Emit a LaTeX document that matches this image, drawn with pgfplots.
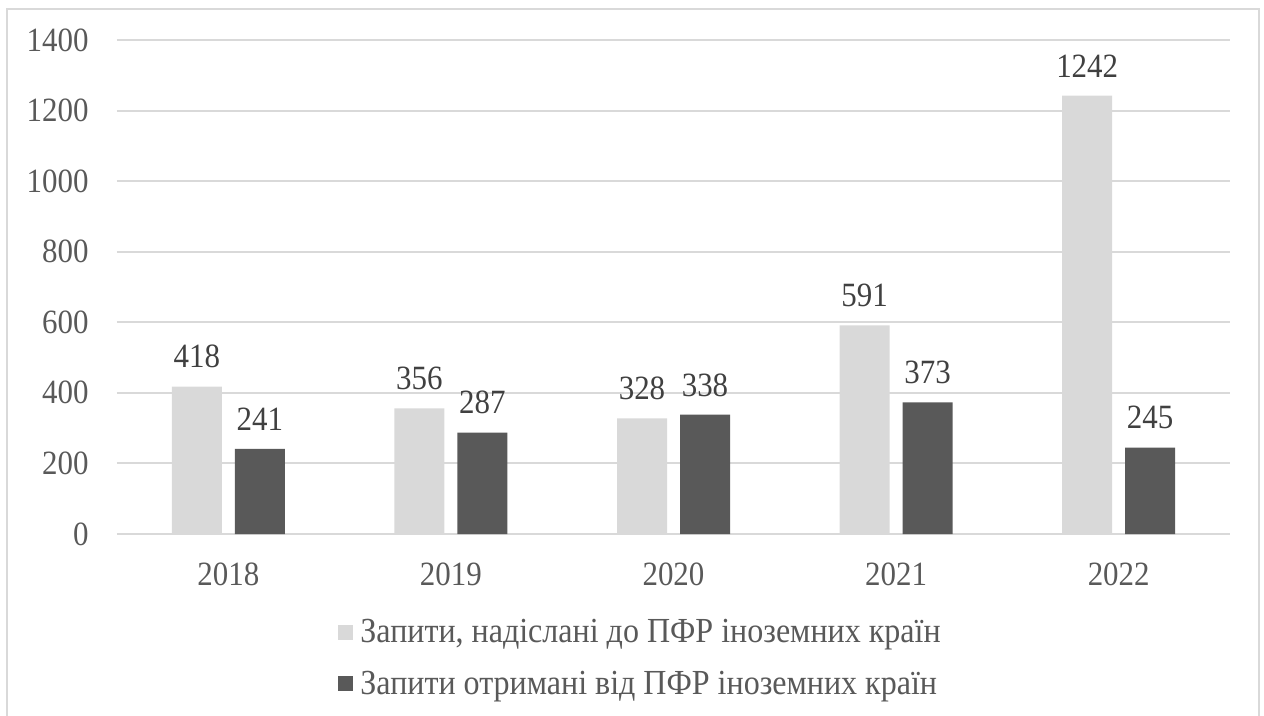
\documentclass[border=0pt]{standalone}
\usepackage{fontspec}
\setmainfont[FakeStretch=0.91]{Liberation Serif}
\usepackage{pgfplots}
\pgfplotsset{compat=1.18}
\definecolor{lightbar}{HTML}{D9D9D9}
\definecolor{darkbar}{HTML}{595959}
\definecolor{gridc}{HTML}{D9D9D9}
\definecolor{tickc}{HTML}{595959}
\definecolor{labc}{HTML}{404040}
\newcommand{\cfont}{\fontsize{17}{20}\selectfont}
\begin{document}
\begin{tikzpicture}
\useasboundingbox (0,0) rectangle (632pt,-358pt);
\draw[gridc, line width=1pt] (3.65pt,-4.5pt) rectangle (629.5pt,-380pt);
\begin{axis}[
  at={(58.5pt,-267pt)}, anchor=south west,
  scale only axis, width=556.5pt, height=247pt,
  ybar=6.5pt, bar width=25pt,
  xmin=-0.5, xmax=4.5, ymin=0, ymax=1400,
  xtick={0,1,2,3,4}, xticklabels={2018,2019,2020,2021,2022},
  ytick={0,200,400,600,800,1000,1200,1400},
  ymajorgrids, grid style={gridc, line width=1pt},
  axis line style={draw=none},
  major tick length=0pt,
  /pgf/number format/1000 sep={},
  /pgf/number format/assume math mode=true,
  tick label style={font=\cfont, color=tickc, inner sep=0pt},
  xticklabel style={yshift=-14pt},
  yticklabel style={xshift=-14pt},
  nodes near coords,
  every node near coord/.append style={font=\cfont, color=labc, inner sep=0pt, yshift=9pt},
  legend style={at={(0.1986,-0.172)}, anchor=north west, draw=none, fill=none, inner sep=0pt,
    font=\fontsize{17.6}{20}\selectfont, text=tickc, row sep=12.5pt, column sep=3.5pt,
    nodes={inner sep=0pt}},
  legend cell align=left,
  legend image code/.code={\fill[#1] (0pt,-3.75pt) rectangle (7.5pt,3.75pt);},
]
\addplot[fill=lightbar, draw=none] coordinates {(0,418) (1,356) (2,328) (3,591) (4,1242)};
\addplot[fill=darkbar, draw=none] coordinates {(0,241) (1,287) (2,338) (3,373) (4,245)};
\legend{{Запити, надіслані до ПФР іноземних країн}, {Запити отримані від ПФР іноземних країн}}
\end{axis}
\end{tikzpicture}
\end{document}
